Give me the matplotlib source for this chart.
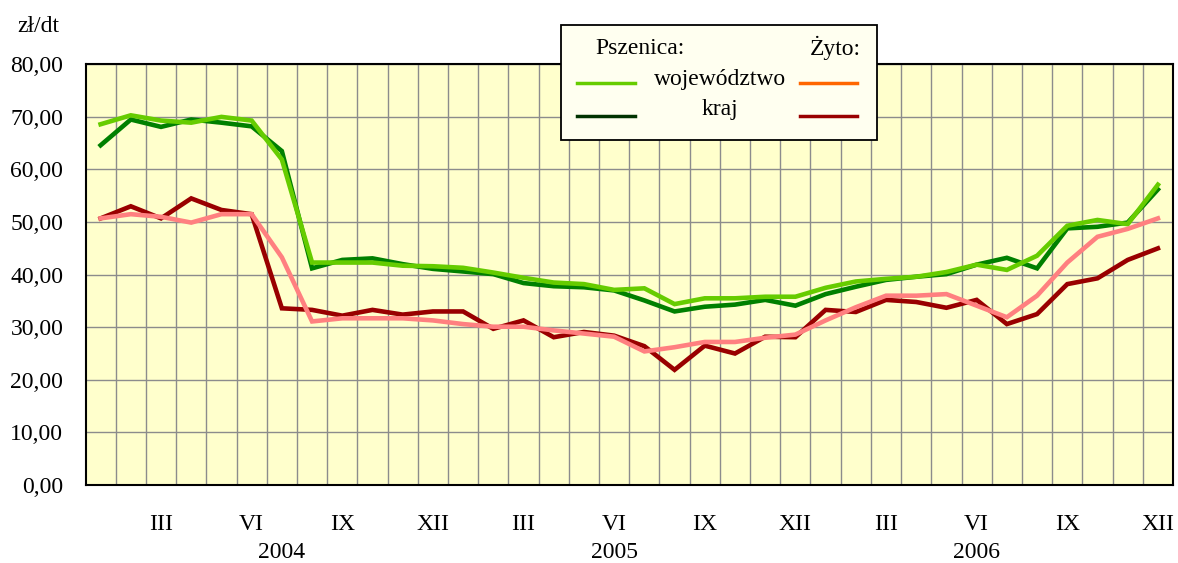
import numpy as np
import matplotlib.pyplot as plt
from matplotlib.patches import Rectangle
from matplotlib.lines import Line2D
from matplotlib.transforms import blended_transform_factory

plt.rcParams['font.family'] = ['Liberation Serif', 'DejaVu Serif']

# --- data: monthly prices 2004-2006, zl/dt ---
months = ['I', 'II', 'III', 'IV', 'V', 'VI', 'VII', 'VIII', 'IX', 'X', 'XI', 'XII'] * 3
years = ['2004', '2005', '2006']
year_label_pos = [6, 17, 29]

wheat_region = [68.6, 70.3, 69.3, 68.9, 70.0, 69.3, 61.9, 42.3, 42.3, 42.3, 41.7, 41.6,
                41.3, 40.4, 39.4, 38.5, 38.2, 37.1, 37.4, 34.4, 35.5, 35.5, 35.8, 35.8,
                37.5, 38.7, 39.2, 39.6, 40.5, 41.9, 40.9, 43.6, 49.3, 50.4, 49.6, 57.1]
wheat_country = [64.6, 69.5, 68.1, 69.5, 68.9, 68.2, 63.5, 41.2, 42.8, 43.1, 42.0, 41.1,
                 40.6, 40.1, 38.4, 37.8, 37.6, 37.0, 35.1, 33.0, 33.9, 34.3, 35.2, 34.1,
                 36.3, 37.7, 39.0, 39.6, 40.1, 41.9, 43.2, 41.2, 48.8, 49.1, 49.9, 56.2]
rye_region = [50.7, 51.5, 51.0, 49.9, 51.5, 51.5, 43.3, 31.1, 31.7, 31.7, 31.7, 31.3,
              30.6, 30.1, 30.1, 29.4, 28.8, 28.2, 25.4, 26.2, 27.2, 27.2, 28.0, 28.6,
              31.3, 33.8, 36.0, 36.0, 36.3, 34.1, 31.9, 36.0, 42.3, 47.2, 48.7, 50.7]
rye_country = [50.7, 53.0, 50.7, 54.5, 52.3, 51.5, 33.6, 33.3, 32.2, 33.3, 32.4, 33.0,
               33.0, 29.7, 31.3, 28.1, 29.1, 28.4, 26.4, 21.9, 26.5, 25.0, 28.2, 28.1,
               33.3, 32.9, 35.2, 34.8, 33.7, 35.2, 30.6, 32.5, 38.2, 39.3, 42.8, 45.0]

W, H = 1178, 563
FS = 17
fig = plt.figure(figsize=(W / 100, H / 100), dpi=100)
fig.patch.set_facecolor('white')

def fx(px):
    return px / W

def fy(py):
    return 1 - py / H

ax = fig.add_axes([fx(85.5), fy(485), fx(1173) - fx(85.5), fy(64.3) - fy(485)])
ax.set_facecolor('#FFFFCC')

x = np.arange(len(months))
ax.plot(x, wheat_country, color='#008000', lw=3.3, solid_joinstyle='miter', zorder=3)
ax.plot(x, wheat_region, color='#66CC00', lw=3.3, solid_joinstyle='miter', zorder=4)
ax.plot(x, rye_country, color='#990000', lw=3.3, solid_joinstyle='miter', zorder=3)
ax.plot(x, rye_region, color='#FF8080', lw=3.3, solid_joinstyle='miter', zorder=4)

ax.set_xlim(-0.5, len(months) - 0.5)
ax.set_ylim(0, 80)
ax.set_yticks(np.arange(0, 81, 10))
ax.set_yticklabels([f'{v:.2f}'.replace('.', ',') for v in range(0, 81, 10)], fontsize=FS)

# month labels only for III, VI, IX, XII
lab_idx = [i for i in range(len(months)) if (i + 1) % 3 == 0]
ax.set_xticks(lab_idx)
ax.set_xticklabels([months[i] for i in lab_idx], fontsize=FS)
ax.set_xticks(np.arange(0.5, len(months) - 0.5, 1), minor=True)
ax.tick_params(axis='both', which='both', length=0)
ax.tick_params(axis='x', pad=21)
ax.tick_params(axis='y', pad=16)
ax.grid(True, which='minor', axis='x', color='#8C8C8C', lw=1.0)
ax.grid(True, which='major', axis='y', color='#8C8C8C', lw=1.0)
ax.set_axisbelow(True)
for s in ax.spines.values():
    s.set_color('black')
    s.set_linewidth(1.5)

trans = blended_transform_factory(ax.transData, fig.transFigure)
for yr, pos in zip(years, year_label_pos):
    ax.text(pos, fy(552), yr, transform=trans, ha='center', va='center', fontsize=FS)

fig.text(fx(38), fy(27), 'zł/dt', ha='center', va='center', fontsize=FS)

# legend box drawn by hand (lines in legend differ from the plot colours)
fig.patches.append(Rectangle((fx(560.5), fy(140)), fx(876.5) - fx(560.5), fy(25) - fy(140),
                             transform=fig.transFigure, facecolor='#FFFFF0',
                             edgecolor='black', lw=1.3, zorder=10))
fig.text(fx(595), fy(48), 'Pszenica:', ha='left', va='center', fontsize=FS, zorder=11)
fig.text(fx(861), fy(48), 'Żyto:', ha='right', va='center', fontsize=FS, zorder=11)
fig.text(fx(720), fy(79), 'województwo', ha='center', va='center', fontsize=FS, zorder=11)
fig.text(fx(720), fy(110), 'kraj', ha='center', va='center', fontsize=FS, zorder=11)
legend_rows = [(82.7, '#66CC00', '#FF6600'), (115.7, '#003300', '#990000')]
for py, c_left, c_right in legend_rows:
    fig.lines.append(Line2D([fx(577), fx(635)], [fy(py), fy(py)], color=c_left, lw=2.5,
                            transform=fig.transFigure, zorder=11))
    fig.lines.append(Line2D([fx(800), fx(857)], [fy(py), fy(py)], color=c_right, lw=2.5,
                            transform=fig.transFigure, zorder=11))

plt.savefig('out.png', dpi=100)
